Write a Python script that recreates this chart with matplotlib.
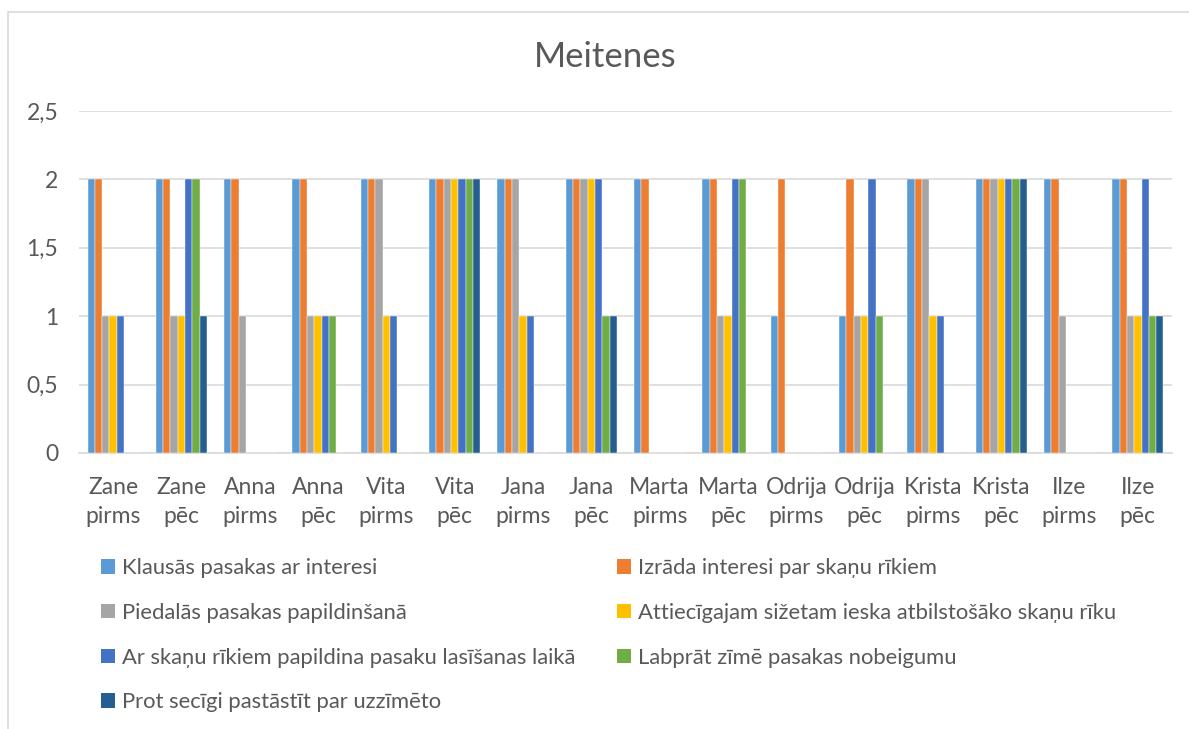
import numpy as np
import matplotlib
matplotlib.use("Agg")
from matplotlib import pyplot as plt
from matplotlib.patches import Rectangle, Patch

plt.rcParams['font.family'] = ['Lato', 'DejaVu Sans']

categories = [
    "Zane\npirms", "Zane\npēc", "Anna\npirms", "Anna\npēc",
    "Vita\npirms", "Vita\npēc", "Jana\npirms", "Jana\npēc",
    "Marta\npirms", "Marta\npēc", "Odrija\npirms", "Odrija\npēc",
    "Krista\npirms", "Krista\npēc", "Ilze\npirms", "Ilze\npēc",
]

series_names = [
    "Klausās pasakas ar interesi",
    "Izrāda interesi par skaņu rīkiem",
    "Piedalās pasakas papildinšanā",
    "Attiecīgajam sižetam ieska atbilstošāko skaņu rīku",
    "Ar skaņu rīkiem papildina pasaku lasīšanas laikā",
    "Labprāt zīmē pasakas nobeigumu",
    "Prot secīgi pastāstīt par uzzīmēto",
]

klausas = [2, 2, 2, 2, 2, 2, 2, 2, 2, 2, 1, 1, 2, 2, 2, 2]
izrada = [2, 2, 2, 2, 2, 2, 2, 2, 2, 2, 2, 2, 2, 2, 2, 2]
piedalas = [1, 1, 1, 1, 2, 2, 2, 2, 0, 1, 0, 1, 2, 2, 1, 1]
attiecigajam = [1, 1, 0, 1, 1, 2, 1, 2, 0, 1, 0, 1, 1, 2, 0, 1]
ar_skanu = [1, 2, 0, 1, 1, 2, 1, 2, 0, 2, 0, 2, 1, 2, 0, 2]
labprat = [0, 2, 0, 1, 0, 2, 0, 1, 0, 2, 0, 1, 0, 2, 0, 1]
prot = [0, 1, 0, 0, 0, 2, 0, 1, 0, 0, 0, 0, 0, 2, 0, 1]

series_values = [klausas, izrada, piedalas, attiecigajam, ar_skanu, labprat, prot]
colors = ["#5B9BD5", "#ED7D31", "#A5A5A5", "#FFC000", "#4472C4", "#70AD47", "#255E91"]
text_color = "#595959"

fig = plt.figure(figsize=(11.89, 7.29), dpi=100)
fig.patches.append(Rectangle((8 / 1189, -0.1), 1.2, 1.1 - 12 / 729,
                             transform=fig.transFigure, fill=False,
                             edgecolor="#d9d9d9", linewidth=1.2))

ax = fig.add_axes([79 / 1189, 1 - 453 / 729, (1172 - 79) / 1189, (453 - 111) / 729])

x = np.arange(len(categories))
bar_width = 0.75 / 7
for i, values in enumerate(series_values):
    offset = (i - 3) * bar_width
    ax.bar(x + offset, values, width=bar_width, color=colors[i],
           edgecolor="white", linewidth=0.3, zorder=3)

ax.set_xlim(-0.5, len(categories) - 0.5)
ax.set_ylim(0, 2.5)
ax.set_yticks([0, 0.5, 1, 1.5, 2, 2.5])
ax.set_yticklabels(["0", "0,5", "1", "1,5", "2", "2,5"])
ax.set_xticks(x)
ax.set_xticklabels(categories, linespacing=1.5)
ax.tick_params(axis="both", length=0, colors=text_color, labelsize=16.5)
ax.tick_params(axis="y", pad=15)
ax.tick_params(axis="x", pad=17)
ax.grid(axis="y", color="#d9d9d9", linewidth=1.2, zorder=0)
for side in ["top", "right", "left"]:
    ax.spines[side].set_visible(False)
ax.spines["bottom"].set_color("#d9d9d9")
ax.spines["bottom"].set_linewidth(1.2)

fig.text(605 / 1189, 1 - 57 / 729, "Meitenes", ha="center", va="center",
         fontsize=25, color=text_color)

handles = [Patch(facecolor=c, edgecolor="none") for c in colors]
left_idx = [0, 2, 4, 6]
right_idx = [1, 3, 5]
for idx, xpos in [(left_idx, 90), (right_idx, 606)]:
    leg = fig.legend([handles[i] for i in idx], [series_names[i] for i in idx],
                     loc="upper left", bbox_to_anchor=(xpos / 1189, 1 - 547 / 729),
                     frameon=False, fontsize=15.8, handlelength=0.65,
                     handleheight=0.65, handletextpad=0.3, labelspacing=1.13,
                     borderpad=0, labelcolor=text_color)

fig.savefig("out.png", dpi=100)
